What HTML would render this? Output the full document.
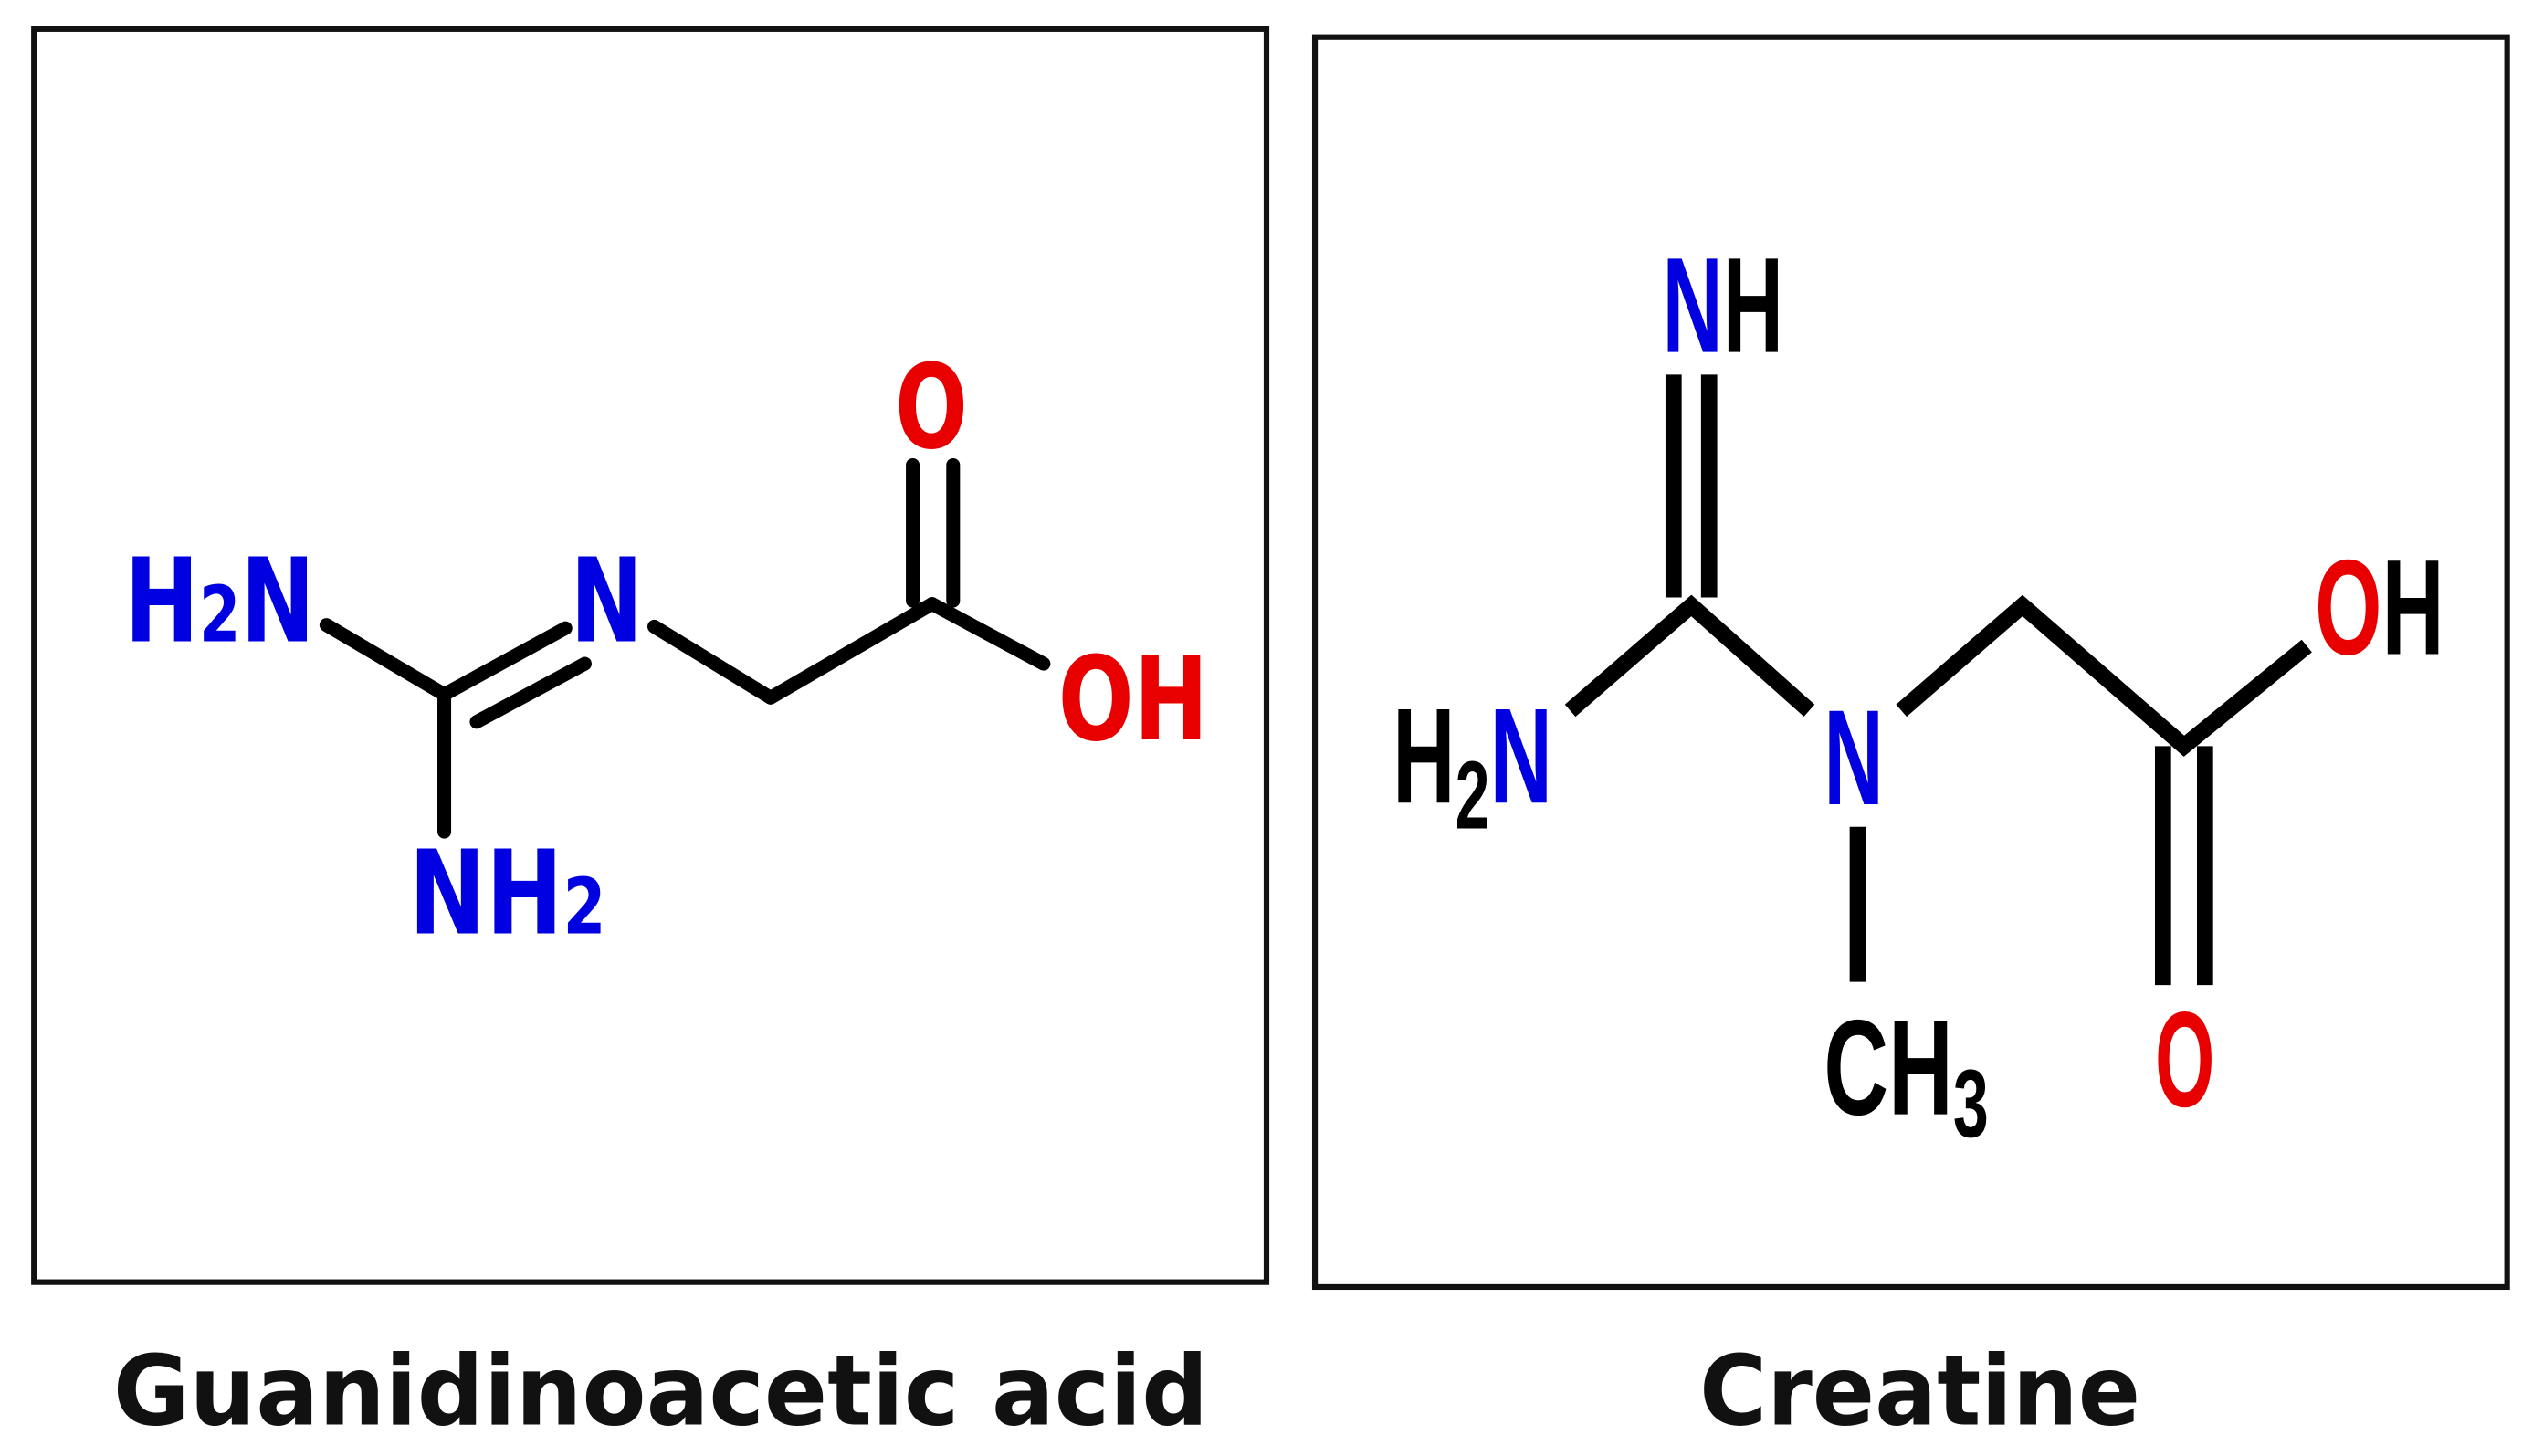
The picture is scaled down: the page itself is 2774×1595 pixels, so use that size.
<!DOCTYPE html>
<html><head><meta charset="utf-8"><style>html,body{margin:0;padding:0;background:#fff}svg{display:block}</style></head>
<body>
<svg width="2774" height="1595" viewBox="0 0 1568 901.6" xmlns="http://www.w3.org/2000/svg">
<rect x="0" y="0" width="1568" height="901.6" fill="#fff"/>
<rect x="21" y="18" width="763" height="776" fill="none" stroke="#111" stroke-width="3.5"/>
<rect x="814" y="23" width="738" height="774" fill="none" stroke="#111" stroke-width="3.5"/>
<g stroke="#000" stroke-width="8.5" stroke-linecap="round" fill="none">
<line x1="202" y1="387" x2="275" y2="430"/>
<line x1="275" y1="430" x2="350" y2="389"/>
<line x1="295" y1="447" x2="362" y2="411"/>
<line x1="275" y1="430" x2="275" y2="515"/>
<line x1="405" y1="388" x2="477" y2="432"/>
<line x1="477" y1="432" x2="577" y2="374"/>
<line x1="577" y1="374" x2="646" y2="411"/>
<line x1="565" y1="288" x2="565" y2="372"/>
<line x1="590" y1="288" x2="590" y2="372"/>
</g>
<g font-family="'DejaVu Sans','Liberation Sans',sans-serif" font-weight="bold" font-size="72">
<text x="77" y="397" fill="#0000e0" textLength="118" lengthAdjust="spacingAndGlyphs">H<tspan font-size="48">2</tspan>N</text>
<text x="353" y="397" fill="#0000e0" textLength="45" lengthAdjust="spacingAndGlyphs">N</text>
<text x="253" y="578" fill="#0000e0" textLength="122" lengthAdjust="spacingAndGlyphs">NH<tspan font-size="48">2</tspan></text>
<text x="554" y="277" fill="#e80000" textLength="45" lengthAdjust="spacingAndGlyphs">O</text>
<text x="655" y="458" fill="#e80000" textLength="93" lengthAdjust="spacingAndGlyphs">OH</text>
</g>
<g stroke="#000" stroke-width="10" fill="none">
<line x1="1036" y1="232" x2="1036" y2="370"/>
<line x1="1058" y1="232" x2="1058" y2="370"/>
<polyline points="972,440 1047,375 1120,440"/>
<line x1="1150" y1="512" x2="1150" y2="608"/>
<polyline points="1177,440 1252,375 1352,462 1428,400"/>
<line x1="1339" y1="462" x2="1339" y2="610"/>
<line x1="1365" y1="462" x2="1365" y2="610"/>
</g>
<g font-family="'Liberation Sans Narrow','Liberation Sans',sans-serif" font-weight="bold" font-size="84">
<text x="1029" y="218" textLength="75" lengthAdjust="spacingAndGlyphs"><tspan fill="#0000e0">N</tspan><tspan fill="#000">H</tspan></text>
<text x="862" y="497" textLength="99" lengthAdjust="spacingAndGlyphs"><tspan fill="#000">H</tspan><tspan fill="#000" font-size="60" dy="16">2</tspan><tspan fill="#0000e0" dy="-16">N</tspan></text>
<text x="1129" y="498" fill="#0000e0" textLength="37" lengthAdjust="spacingAndGlyphs">N</text>
<text x="1129" y="690" fill="#000" textLength="102" lengthAdjust="spacingAndGlyphs">CH<tspan font-size="60" dy="14">3</tspan></text>
<text x="1433" y="405" textLength="80" lengthAdjust="spacingAndGlyphs"><tspan fill="#e80000">O</tspan><tspan fill="#000">H</tspan></text>
<text x="1334" y="685" fill="#e80000" textLength="37" lengthAdjust="spacingAndGlyphs">O</text>
</g>
<g font-family="'DejaVu Sans','Liberation Sans',sans-serif" font-weight="bold" font-size="60" fill="#111">
<text x="70" y="882" textLength="678" lengthAdjust="spacingAndGlyphs">Guanidinoacetic acid</text>
<text x="1052" y="882" textLength="273" lengthAdjust="spacingAndGlyphs">Creatine</text>
</g>
</svg>
</body></html>
